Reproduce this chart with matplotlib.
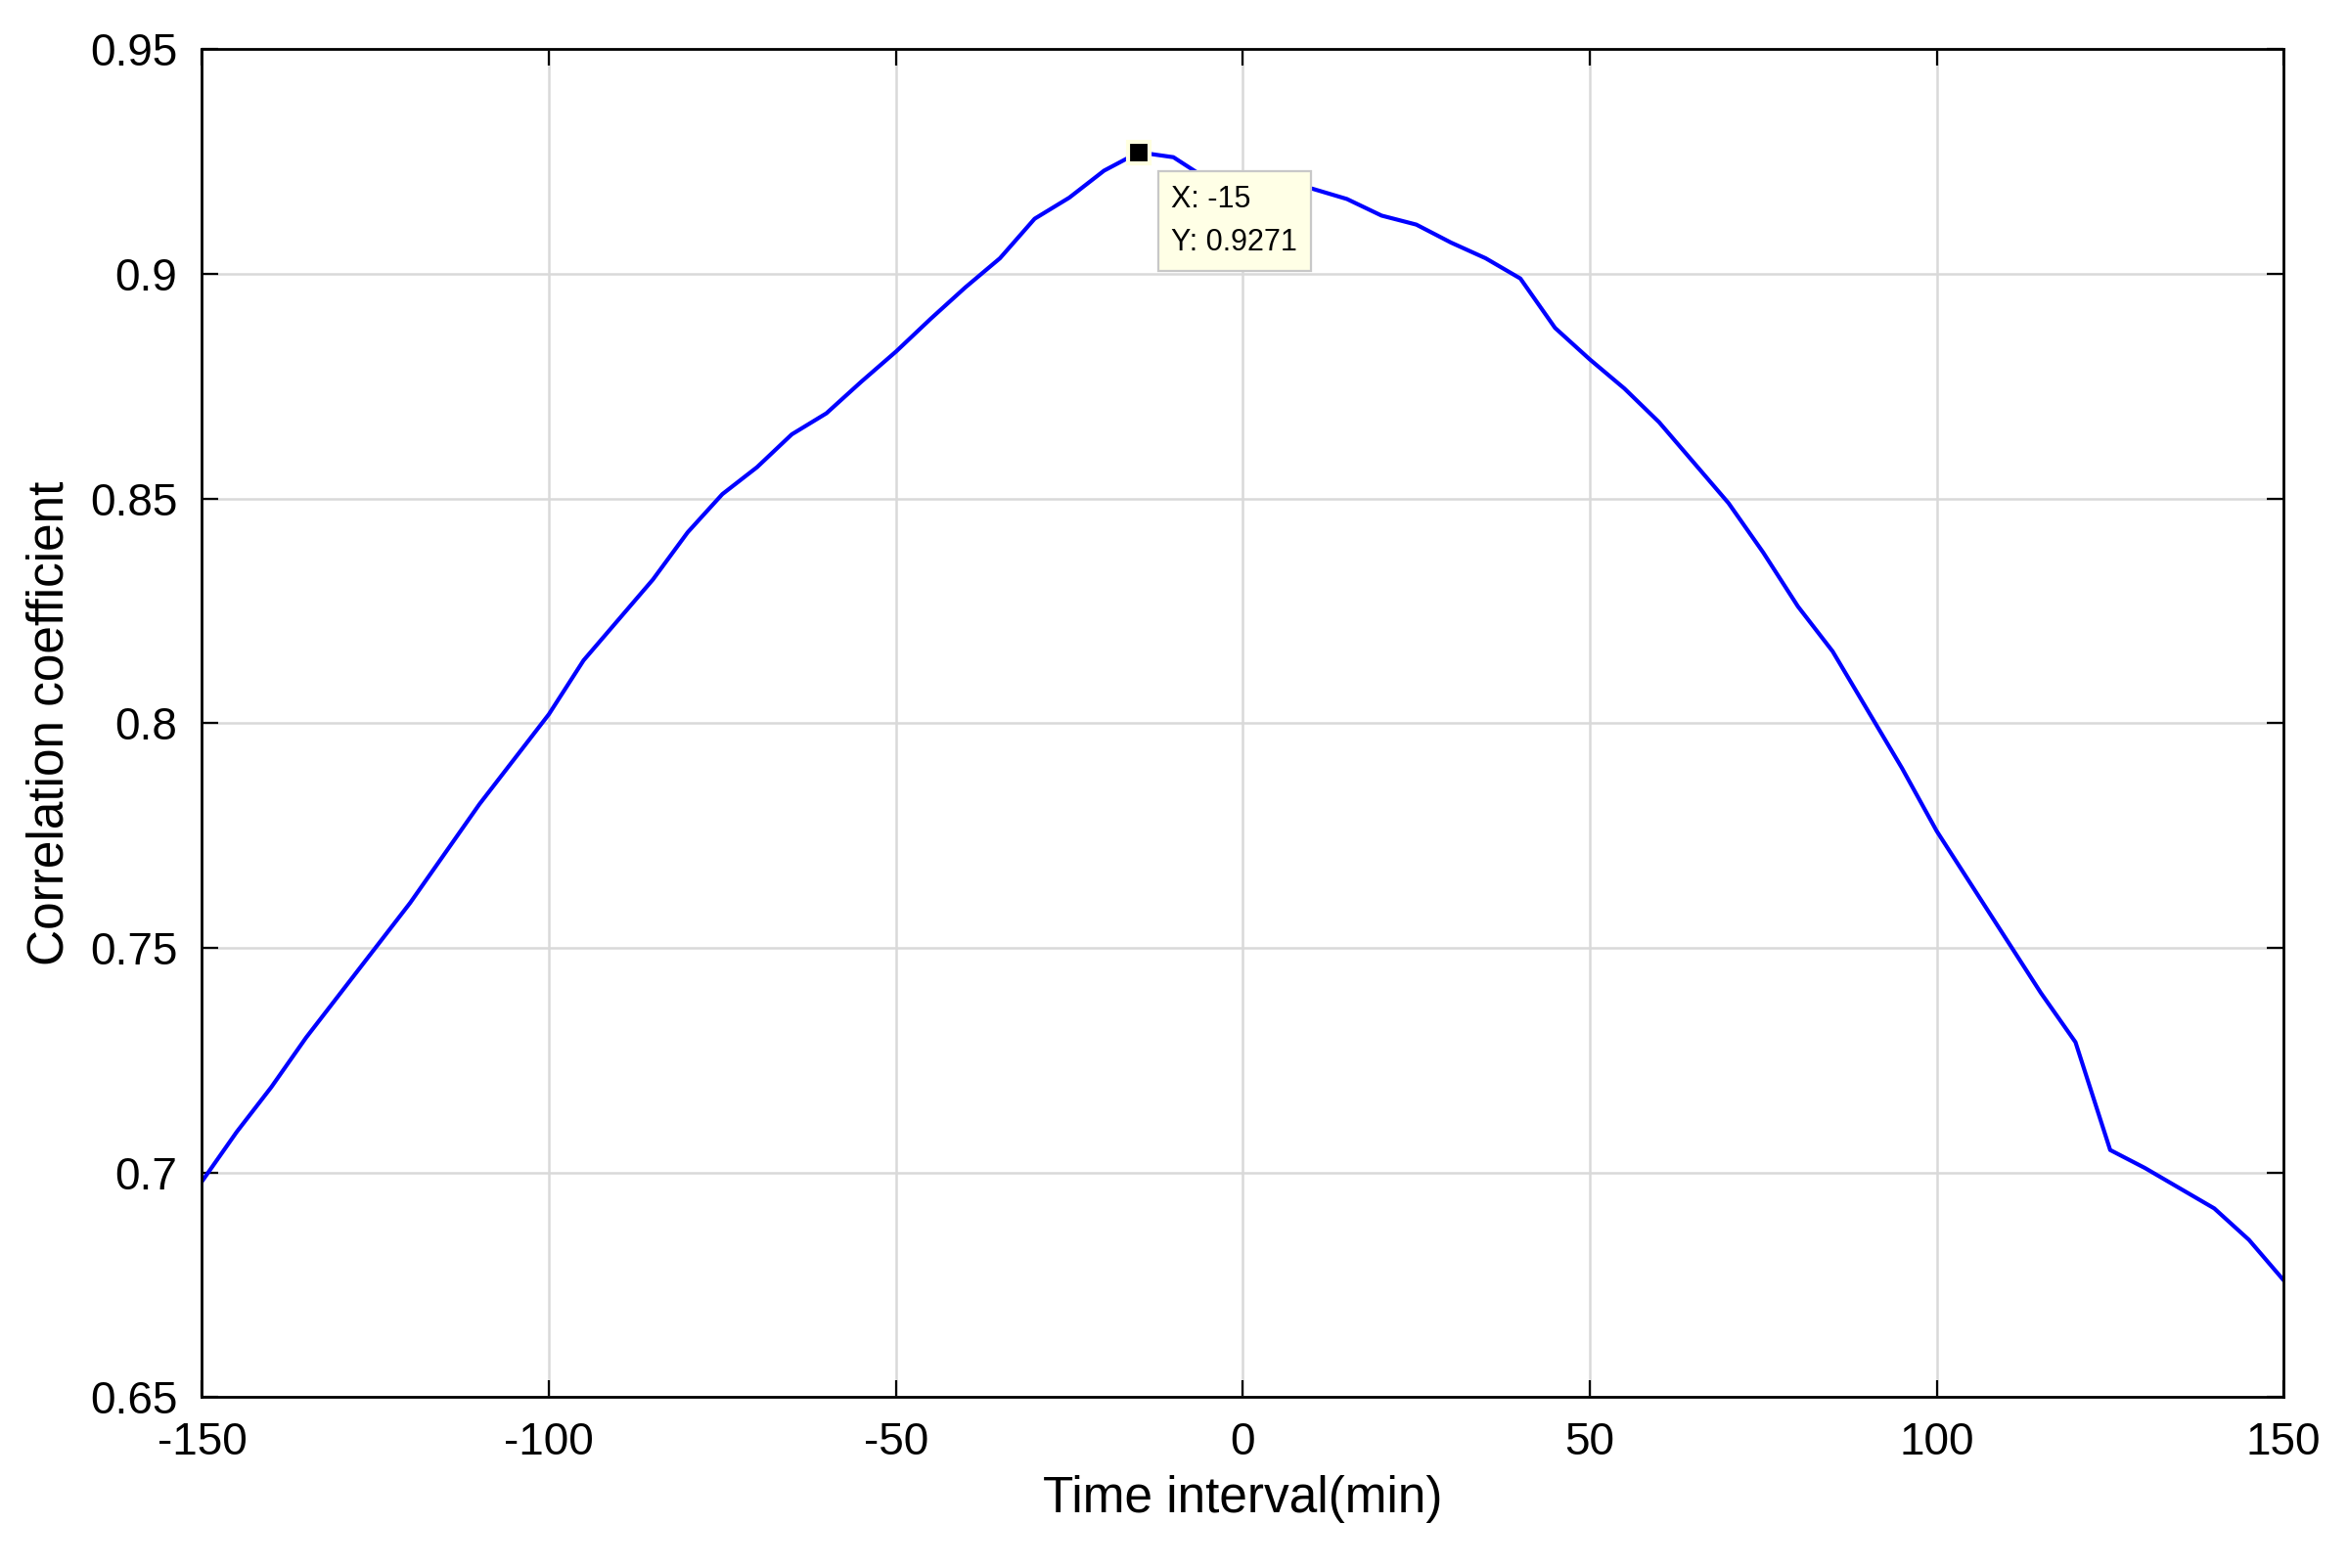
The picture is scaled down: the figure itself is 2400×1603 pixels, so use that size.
import matplotlib
matplotlib.use("Agg")
import matplotlib.pyplot as plt
import numpy as np

plt.rcParams["font.family"] = ["Liberation Sans", "DejaVu Sans"]
plt.rcParams["axes.unicode_minus"] = False

time_interval = list(range(-150, 155, 5))
corr = [
    0.698, 0.709, 0.719, 0.730, 0.740, 0.750, 0.760, 0.771, 0.782, 0.792,
    0.802, 0.814, 0.823, 0.832, 0.8425, 0.851, 0.857, 0.8643, 0.869, 0.876,
    0.8827, 0.890, 0.897, 0.9035, 0.9123, 0.917, 0.923, 0.9271, 0.926, 0.921,
    0.9205, 0.920, 0.919, 0.9167, 0.913, 0.911, 0.907, 0.9035, 0.899, 0.888,
    0.881, 0.8745, 0.867, 0.858, 0.849, 0.838, 0.826, 0.816, 0.803, 0.790,
    0.776, 0.764, 0.752, 0.740, 0.729, 0.705, 0.701, 0.6965, 0.692, 0.685,
    0.676,
]
tip_x, tip_y = -15, 0.9271

fig = plt.figure(figsize=(12, 8.015), dpi=200)
ax = fig.add_axes([0.086, 0.109, 0.8866, 0.8595])
ax.plot(time_interval, corr, color="#0000ff", linewidth=1.5)

ax.set_xlim(-150, 150)
ax.set_ylim(0.65, 0.95)
ax.set_xticks(np.arange(-150, 151, 50))
ax.set_yticks([0.65, 0.7, 0.75, 0.8, 0.85, 0.9, 0.95])
ax.set_yticklabels(["0.65", "0.7", "0.75", "0.8", "0.85", "0.9", "0.95"])
ax.grid(True, color="#d9d9d9", linewidth=0.9)
ax.tick_params(direction="in", top=True, right=True, labelsize=16.5, length=6, pad=9)
for s in ax.spines.values():
    s.set_linewidth(1.0)
ax.set_xlabel("Time interval(min)", fontsize=18.5, labelpad=4)
ax.set_ylabel("Correlation coefficient", fontsize=18.5, labelpad=6)

# data tip
ax.plot([tip_x], [tip_y], marker="s", color="black", markersize=8,
        markeredgecolor="#ffffe0", markeredgewidth=1.5, zorder=5)
ax.annotate(f"X: {tip_x}\nY: {tip_y}", xy=(tip_x, tip_y), xytext=(12, -12),
            textcoords="offset points", ha="left", va="top", fontsize=11,
            linespacing=1.6,
            bbox=dict(boxstyle="square,pad=0.45", fc="#ffffe6", ec="#c8c8c8", lw=0.8),
            zorder=6)

fig.savefig("out.png", dpi=200)
